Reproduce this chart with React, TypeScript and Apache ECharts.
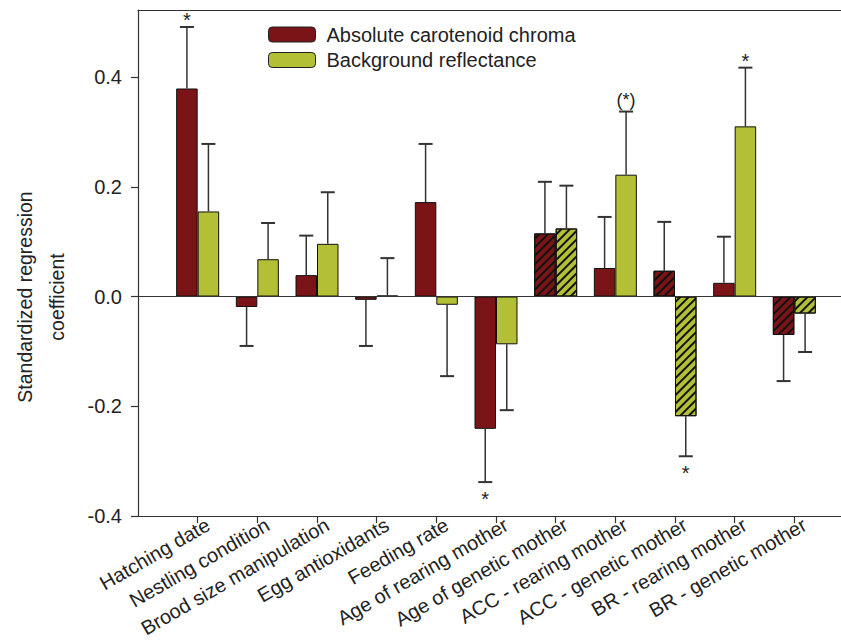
import React, { useEffect, useRef } from "react";
import * as echarts from "echarts";

const categories = [
  "Hatching date",
  "Nestling condition",
  "Brood size manipulation",
  "Egg antioxidants",
  "Feeding rate",
  "Age of rearing mother",
  "Age of genetic mother",
  "ACC - rearing mother",
  "ACC - genetic mother",
  "BR - rearing mother",
  "BR - genetic mother",
];
const chromaValues = [0.379, -0.019, 0.039, -0.006, 0.172, -0.241, 0.115, 0.052, 0.047, 0.025, -0.07];
const chromaErrEnds = [0.491, -0.09, 0.111, -0.09, 0.278, -0.338, 0.209, 0.145, 0.136, 0.109, -0.154];
const reflectValues = [0.155, 0.068, 0.096, 0.002, -0.015, -0.087, 0.124, 0.222, -0.218, 0.31, -0.031];
const reflectErrEnds = [0.278, 0.134, 0.19, 0.07, -0.145, -0.207, 0.202, 0.337, -0.291, 0.417, -0.101];
const chromaSig = ["*", "", "", "", "", "*", "", "", "", "", ""];
const reflectSig = ["", "", "", "", "", "", "", "(*)", "*", "*", ""];
const hatched = [false, false, false, false, false, false, true, false, true, false, true];
const yTicks = [-0.4, -0.2, 0, 0.2, 0.4];

const RED = "#7a1416";
const GREEN = "#b3bf35";
const BAR_W = 21.5;
const FONT = "Arial, 'Liberation Sans', sans-serif";
const CHART_W = 870;

const decal = {
  symbol: "rect",
  symbolSize: 1,
  dashArrayX: [1, 0],
  dashArrayY: [1.6, 3.6],
  rotation: -Math.PI / 4,
  color: "#111",
};

function barData(values: number[]) {
  return values.map((v, i) => ({
    value: [i + 1, v],
    itemStyle: hatched[i] ? { decal } : undefined,
  }));
}

function errSeries(name: string, values: number[], ends: number[], sig: string[], offset: number) {
  return {
    type: "custom",
    name: name + "-err",
    z: 5,
    silent: true,
    clip: false,
    encode: { x: 0, y: [1, 2] },
    data: values.map((v, i) => [i + 1, v, ends[i]]),
    renderItem: (params: any, api: any) => {
      const i = params.dataIndex;
      const p0 = api.coord([api.value(0), api.value(1)]);
      const p1 = api.coord([api.value(0), api.value(2)]);
      const x = p0[0] + offset;
      const up = p1[1] < p0[1];
      const children: any[] = [
        { type: "line", shape: { x1: x, y1: p0[1], x2: x, y2: p1[1] }, style: { stroke: "#333", lineWidth: 1.5 } },
        { type: "line", shape: { x1: x - 7, y1: p1[1], x2: x + 7, y2: p1[1] }, style: { stroke: "#333", lineWidth: 2 } },
      ];
      if (sig[i]) {
        const paren = sig[i].length > 1;
        children.push({
          type: "text",
          x: x,
          y: up ? p1[1] + (paren ? -3 : 3) : p1[1] + 7,
          style: {
            text: sig[i],
            fill: "#222",
            font: `${paren ? 18 : 20}px ${FONT}`,
            align: "center",
            verticalAlign: up ? "bottom" : "top",
          },
        });
      }
      return { type: "group", children };
    },
  };
}

export default function App() {
  const ref = useRef<HTMLDivElement>(null);
  useEffect(() => {
    document.body.style.margin = "0";
    document.body.style.overflow = "hidden";
    if (!ref.current) return;
    const chart = echarts.init(ref.current, undefined, { renderer: "svg" });
    const catData = ["", ...categories, ""];
    const option: any = {
      animation: false,
      backgroundColor: "#fff",
      grid: { left: 138, right: 16, top: 10, bottom: 123, show: false },
      legend: {
        orient: "vertical",
        left: 268,
        top: 24.5,
        padding: 0,
        itemWidth: 47,
        itemHeight: 15,
        itemGap: 5.5,
        textStyle: { fontSize: 20, lineHeight: 16, color: "#222", fontFamily: FONT, padding: [0, 0, 0, 6] },
        itemStyle: { borderColor: "#222", borderWidth: 1 },
        data: ["Absolute carotenoid chroma", "Background reflectance"],
        selectedMode: false,
      },
      xAxis: [
        {
          type: "category",
          boundaryGap: false,
          data: catData,
          axisLine: { onZero: false, lineStyle: { color: "#333", width: 1.2 } },
          axisTick: { interval: (idx: number) => idx >= 1 && idx <= categories.length, length: 7, lineStyle: { color: "#333", width: 1.2 } },
          axisLabel: { interval: 0, rotate: 30, fontSize: 20, color: "#222", fontFamily: FONT, margin: 13, padding: [0, -12, 0, 0] },
          splitLine: { show: false },
        },
        {
          type: "category",
          position: "top",
          boundaryGap: false,
          data: catData,
          axisLine: { onZero: false, lineStyle: { color: "#333", width: 1.2 } },
          axisTick: { show: false },
          axisLabel: { show: false },
          splitLine: { show: false },
        },
      ],
      yAxis: {
        type: "value",
        min: -0.4,
        max: 0.522,
        axisLine: { show: true, lineStyle: { color: "#333", width: 1.2 } },
        axisTick: { show: true, length: 7, customValues: yTicks, lineStyle: { color: "#333", width: 1.2 } },
        axisLabel: { customValues: yTicks, formatter: (v: number) => v.toFixed(1), fontSize: 20, color: "#222", fontFamily: FONT, margin: 16 },
        splitLine: { show: false },
      },
      graphic: [
        {
          type: "text",
          x: 41,
          y: 297,
          rotation: Math.PI / 2,
          style: {
            text: "Standardized regression\ncoefficient",
            font: `19.5px ${FONT}`,
            fill: "#222",
            align: "center",
            verticalAlign: "middle",
            lineHeight: 32,
          },
        },
      ],
      series: [
        {
          type: "bar",
          name: "Absolute carotenoid chroma",
          barWidth: BAR_W,
          barGap: "0%",
          itemStyle: { color: RED, borderColor: "#111", borderWidth: 1 },
          data: barData(chromaValues),
          markLine: {
            silent: true,
            symbol: "none",
            label: { show: false },
            lineStyle: { color: "#333", width: 1.2, type: "solid" },
            data: [{ yAxis: 0 }],
          },
        },
        {
          type: "bar",
          name: "Background reflectance",
          barWidth: BAR_W,
          barGap: "0%",
          itemStyle: { color: GREEN, borderColor: "#111", borderWidth: 1 },
          data: barData(reflectValues),
        },
        errSeries("chroma", chromaValues, chromaErrEnds, chromaSig, -BAR_W / 2),
        errSeries("reflect", reflectValues, reflectErrEnds, reflectSig, BAR_W / 2),
      ],
    };
    chart.setOption(option);
    return () => chart.dispose();
  }, []);
  return (
    <div style={{ width: 841, height: 640, overflow: "hidden", position: "relative" }}>
      <div ref={ref} style={{ width: CHART_W, height: 640 }} />
    </div>
  );
}
